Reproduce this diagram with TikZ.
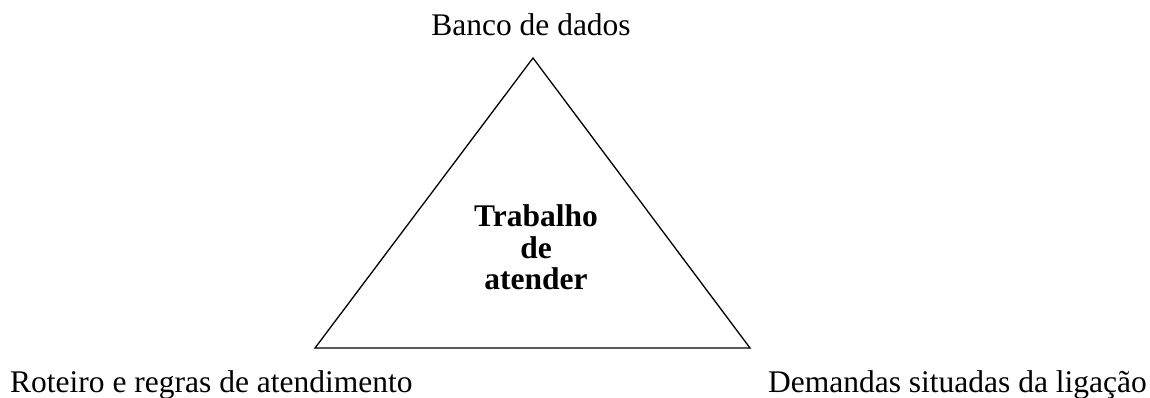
\documentclass[tikz,border=0pt]{standalone}
\usepackage{fontspec}
\setmainfont{Liberation Serif}
\begin{document}
\begin{tikzpicture}
  [x=1pt,y=1pt,every node/.style={inner sep=0pt,font=\fontsize{31.5}{31.5}\selectfont}]
  \tikzstyle{rotulo} = [anchor=base]
  \useasboundingbox (0,0) rectangle (1150,398);
  \coordinate (topo) at (533,340);
  \coordinate (esq) at (315,50);
  \coordinate (dir) at (750,50);
  \draw[line width=1.3pt,line join=miter] (topo) -- (esq) -- (dir) -- cycle;

  \node[rotulo] (banco) at (531,362) {Banco de dados};
  \node[rotulo,anchor=base west] (roteiro) at (10,5) {Roteiro e regras de atendimento};
  \node[rotulo,anchor=base east] (demandas) at (1147,5) {Demandas situadas da ligação};
  \node[rotulo,align=center,font=\fontsize{31.5}{31.5}\selectfont\bfseries] (trabalho) at (536,108) {Trabalho\\de\\atender};
\end{tikzpicture}
\end{document}
